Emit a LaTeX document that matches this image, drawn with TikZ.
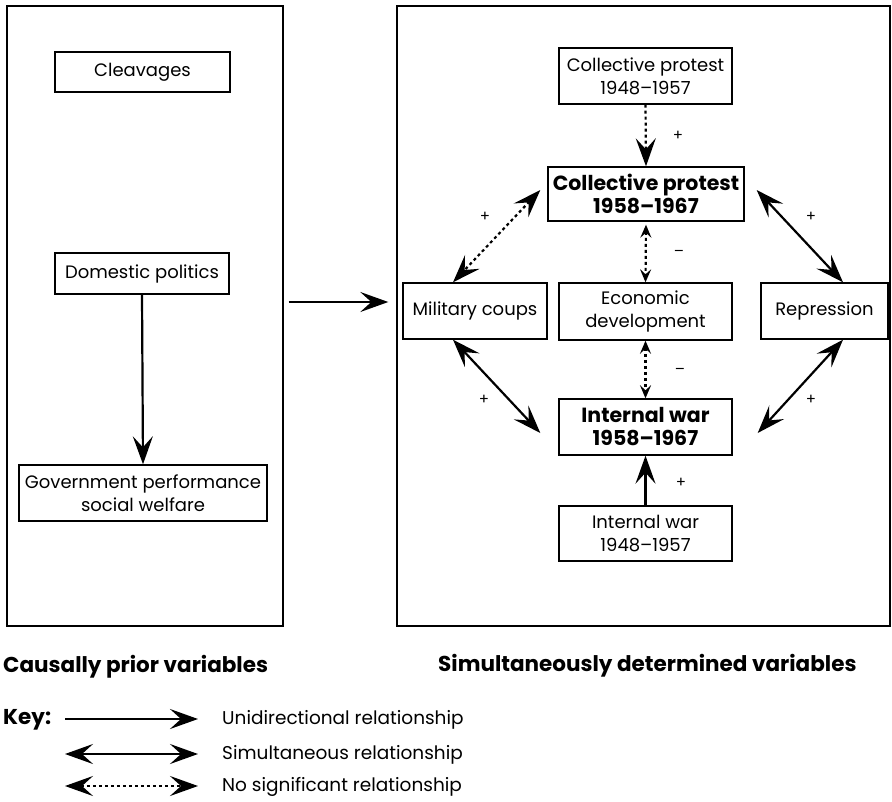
\documentclass[tikz,border=0pt]{standalone}
\usepackage{fontspec}
\setmainfont{Poppins}
\usetikzlibrary{arrows.meta}

\begin{document}
\begin{tikzpicture}[x=1pt,y=-1pt,
  head/.tip={Stealth[length=28pt,width=20pt,inset=11pt]},
  minihead/.tip={Stealth[length=13pt,width=11pt,inset=5pt]},
  panel/.style={draw,line width=1.4pt,inner sep=0pt},
  box/.style={draw,line width=1.4pt,inner sep=0pt,align=center,
    font=\fontsize{18}{23}\selectfont},
  boldbox/.style={box,font=\fontsize{20.5}{23}\selectfont\bfseries},
  uni/.style={line width=2.2pt,-head},
  simul/.style={line width=2.2pt,head-head},
  nosig/.style={line width=2.2pt,dash pattern=on 3pt off 3pt,head-head},
  nosigshort/.style={line width=2.2pt,dash pattern=on 3pt off 3pt,minihead-minihead},
  nosiguni/.style={line width=2.2pt,dash pattern=on 3pt off 3pt,-head},
  sign/.style={inner sep=0pt,font=\fontsize{15}{15}\selectfont},
  heading/.style={inner sep=0pt,anchor=west,font=\fontsize{21.5}{21.5}\selectfont\bfseries},
  keytext/.style={inner sep=0pt,anchor=west,font=\fontsize{18.5}{18.5}\selectfont}
]
\useasboundingbox (0,0) rectangle (892,801);

% the two panels
\node[panel,minimum width=276pt,minimum height=620pt] (lp) at (145,316) {};
\node[panel,minimum width=493pt,minimum height=620pt] (rp) at (643.5,316) {};

% causally prior variables
\node[box,minimum width=175pt,minimum height=40pt] (cl) at (142.5,72) {Cleavages};
\node[box,minimum width=174pt,minimum height=41pt] (dom) at (142,273.5) {Domestic politics};
\node[box,minimum width=248pt,minimum height=56pt] (gov) at (143,493)
  {Government performance\\social welfare};

% simultaneously determined variables
\node[box,minimum width=173pt,minimum height=56pt] (cp48) at (645.5,76)
  {Collective protest\\1948--1957};
\node[boldbox,minimum width=196pt,minimum height=54pt] (cp58) at (646,194)
  {Collective protest\\1958--1967};
\node[box,minimum width=144pt,minimum height=56pt] (mil) at (475,311) {Military coups};
\node[box,minimum width=173pt,minimum height=57pt] (eco) at (645.5,311.5)
  {Economic\\development};
\node[box,minimum width=127pt,minimum height=56pt] (rep) at (824.5,311) {Repression};
\node[boldbox,minimum width=173pt,minimum height=56pt] (iw58) at (645.5,427)
  {Internal war\\1958--1967};
\node[box,minimum width=173pt,minimum height=55pt] (iw48) at (645.5,533.5)
  {Internal war\\1948--1957};

% connectors
\draw[uni] (dom.south) -- (gov.north);
\draw[uni] ([xshift=5pt,yshift=14pt]lp.east) -- ([xshift=-8pt,yshift=14pt]rp.west);

\draw[nosiguni] (cp48.south) -- (cp58.north);
\draw[nosig] ([xshift=-7pt,yshift=4pt]cp58.west) -- ([xshift=-22pt]mil.north);
\draw[simul] ([xshift=12pt,yshift=4pt]cp58.east) -- ([xshift=18.5pt]rep.north);
\draw[nosigshort] ([yshift=-3pt]cp58.south) -- (eco.north);
\draw[nosigshort] (eco.south) -- (iw58.north);
\draw[simul] ([xshift=-22pt]mil.south) -- ([xshift=-18pt,yshift=-6pt]iw58.west);
\draw[simul] ([xshift=18.5pt]rep.south) -- ([xshift=25pt,yshift=-6pt]iw58.east);
\draw[uni] (iw48.north) -- (iw58.south);

% signs of the relationships
\node[sign] (s1) at (678,136) {+};
\node[sign] (s2) at (485,217) {+};
\node[sign] (s3) at (811,217) {+};
\node[sign] (s4) at (679,253) {--};
\node[sign] (s5) at (680,371) {--};
\node[sign] (s6) at (484,400) {+};
\node[sign] (s7) at (811,400) {+};
\node[sign] (s8) at (681,483) {+};

% headings
\node[heading] (h1) at (3,667) {Causally prior variables};
\node[heading] (h2) at (438,666) {Simultaneously determined variables};

% key
\node[heading] (key) at (3,720) {Key:};
\coordinate (k1a) at (65,719);  \coordinate (k1b) at (198,719);
\coordinate (k2a) at (65,754);  \coordinate (k2b) at (198,754);
\coordinate (k3a) at (65,786);  \coordinate (k3b) at (198,786);
\draw[uni] (k1a) -- (k1b);
\draw[simul] (k2a) -- (k2b);
\draw[nosig] (k3a) -- (k3b);
\node[keytext] (t1) at (222,720) {Unidirectional relationship};
\node[keytext] (t2) at (222,755) {Simultaneous relationship};
\node[keytext] (t3) at (222,787) {No significant relationship};
\end{tikzpicture}
\end{document}
